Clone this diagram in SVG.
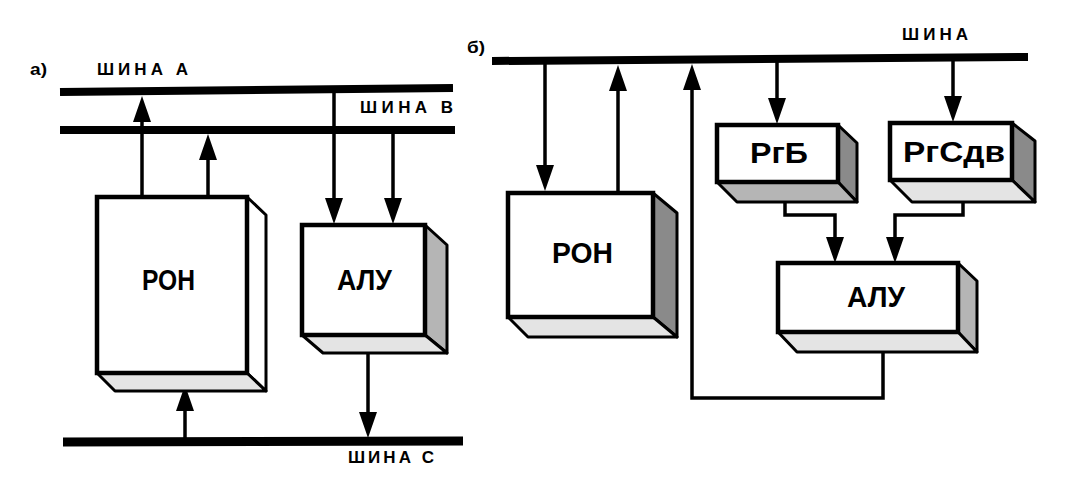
<svg xmlns="http://www.w3.org/2000/svg" width="1084" height="484" viewBox="0 0 1084 484">
<style>
.bus{stroke:#000;stroke-width:8;fill:none;stroke-linecap:butt}
.wire{stroke:#000;stroke-width:3.5;fill:none;stroke-linejoin:miter}
.front{fill:#fff;stroke:#000;stroke-width:4.5}
.side{stroke:#000;stroke-width:3;stroke-linejoin:round}
.dark{fill:#8a8a8a}
.mid{fill:#b5b5b5}
.light{fill:#e4e4e4}
.white{fill:#fff}
.lbl{font-family:"Liberation Sans",Arial,sans-serif;font-weight:bold;font-size:17px;fill:#000}
.box{font-family:"Liberation Sans",Arial,sans-serif;font-weight:bold;font-size:29px;fill:#000}
</style>
<defs>
<marker id="ah" viewBox="0 0 26 18" refX="16" refY="9" markerWidth="26" markerHeight="18" markerUnits="userSpaceOnUse" orient="auto">
<path d="M0,0 L26,9 L0,18 z" fill="#000"/>
</marker>
</defs>

<g id="labels">
<text class="lbl" x="30" y="75" textLength="17" lengthAdjust="spacingAndGlyphs">а)</text>
<text class="lbl" x="97" y="75" textLength="91" lengthAdjust="spacing">ШИНА А</text>
<text class="lbl" x="360" y="113" textLength="93" lengthAdjust="spacing">ШИНА В</text>
<text class="lbl" x="348" y="463" textLength="86" lengthAdjust="spacing">ШИНА С</text>
<text class="lbl" x="467" y="53" textLength="18" lengthAdjust="spacingAndGlyphs">б)</text>
<text class="lbl" x="902" y="40" textLength="66" lengthAdjust="spacing">ШИНА</text>
</g>

<g id="buses">
<path class="bus" d="M60,92 L453,88"/>
<path class="bus" d="M60,130 L455,130"/>
<path class="bus" d="M63,442 L463,441" style="stroke-width:9"/>
<path class="bus" d="M492,61 L1028,57"/>
</g>

<g id="connectors">
<path class="wire" d="M142,197 V106" marker-end="url(#ah)"/>
<path class="wire" d="M208,197 V144" marker-end="url(#ah)"/>
<path class="wire" d="M334,90 V214" marker-end="url(#ah)"/>
<path class="wire" d="M393,130 V214" marker-end="url(#ah)"/>
<path class="wire" d="M368,353 V428" marker-end="url(#ah)"/>
<path class="wire" d="M185,438 V395" marker-end="url(#ah)"/>
<path class="wire" d="M545,61 V181" marker-end="url(#ah)"/>
<path class="wire" d="M618,193 V75" marker-end="url(#ah)"/>
<path class="wire" d="M883,353 V398 H692 V74" marker-end="url(#ah)"/>
<path class="wire" d="M777,59 V114" marker-end="url(#ah)"/>
<path class="wire" d="M953,58 V112" marker-end="url(#ah)"/>
<path class="wire" d="M785,202 V215 H835 V253" marker-end="url(#ah)"/>
<path class="wire" d="M963,202 V215 H895 V253" marker-end="url(#ah)"/>
</g>

<g id="ron-a">
<polygon class="side white" points="247,197 266,215 266,391 247,373"/>
<polygon class="side light" points="97,373 247,373 266,391 115,391"/>
<rect class="front" x="97" y="197" width="150" height="176"/>
<text class="box" x="142" y="290" textLength="53" lengthAdjust="spacingAndGlyphs">РОН</text>
</g>

<g id="alu-a">
<polygon class="side mid" points="425,225 447,245 447,353 425,335"/>
<polygon class="side light" points="302,335 425,335 447,353 323,353"/>
<rect class="front" x="302" y="225" width="123" height="110"/>
<text class="box" x="337" y="290" textLength="55" lengthAdjust="spacingAndGlyphs">АЛУ</text>
</g>

<g id="ron-b">
<polygon class="side dark" points="653,193 677,213 677,337 653,317"/>
<polygon class="side light" points="508,317 653,317 677,337 528,337"/>
<rect class="front" x="508" y="193" width="145" height="124"/>
<text class="box" x="552" y="263" textLength="61" lengthAdjust="spacingAndGlyphs">РОН</text>
</g>

<g id="rgb">
<polygon class="side dark" points="838,125 857,143 857,202 838,182"/>
<polygon class="side mid" points="717,182 838,182 857,202 737,202"/>
<rect class="front" x="717" y="125" width="121" height="57"/>
<text class="box" x="750" y="163" textLength="58" lengthAdjust="spacingAndGlyphs">РгБ</text>
</g>

<g id="rgsdv">
<polygon class="side dark" points="1012,123 1035,141 1035,202 1012,180"/>
<polygon class="side light" points="890,180 1012,180 1035,202 912,202"/>
<rect class="front" x="890" y="123" width="122" height="57"/>
<text class="box" x="903" y="162" textLength="102" lengthAdjust="spacingAndGlyphs">РгСдв</text>
</g>

<g id="alu-b">
<polygon class="side mid" points="958,263 977,281 977,352 958,332"/>
<polygon class="side light" points="778,332 958,332 977,352 797,352"/>
<rect class="front" x="778" y="263" width="180" height="69"/>
<text class="box" x="847" y="307" textLength="58" lengthAdjust="spacingAndGlyphs">АЛУ</text>
</g>
</svg>
